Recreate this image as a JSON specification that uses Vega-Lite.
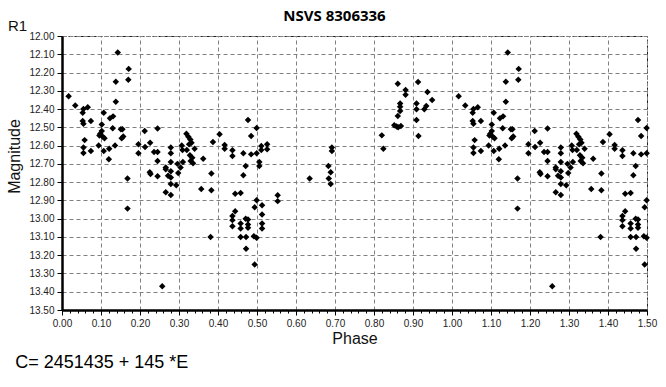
{
  "$schema": "https://vega.github.io/schema/vega-lite/v6.json",
  "width": 585,
  "height": 274,
  "autosize": {"type": "none"},
  "padding": {"left": 62, "top": 36, "right": 19, "bottom": 77},
  "background": "white",
  "config": {
    "view": {"stroke": "#222222", "strokeDash": [4, 2], "strokeWidth": 1},
    "font": "Liberation Sans"
  },
  "title": {
    "text": "NSVS 8306336",
    "font": "Open Sans",
    "fontWeight": "bold",
    "fontSize": 15,
    "color": "#000000",
    "anchor": "middle",
    "dx": -20,
    "offset": -5
  },
  "encoding": {
    "x": {
      "field": "phase",
      "type": "quantitative",
      "title": "Phase",
      "scale": {"domain": [0, 1.5], "nice": false, "zero": false},
      "axis": {
        "values": [0, 0.02, 0.04, 0.06, 0.08, 0.1, 0.12, 0.14, 0.16, 0.18, 0.2, 0.22, 0.24, 0.26, 0.28, 0.3, 0.32, 0.34, 0.36, 0.38, 0.4, 0.42, 0.44, 0.46, 0.48, 0.5, 0.52, 0.54, 0.56, 0.58, 0.6, 0.62, 0.64, 0.66, 0.68, 0.7, 0.72, 0.74, 0.76, 0.78, 0.8, 0.82, 0.84, 0.86, 0.88, 0.9, 0.92, 0.94, 0.96, 0.98, 1, 1.02, 1.04, 1.06, 1.08, 1.1, 1.12, 1.14, 1.16, 1.18, 1.2, 1.22, 1.24, 1.26, 1.28, 1.3, 1.32, 1.34, 1.36, 1.38, 1.4, 1.42, 1.44, 1.46, 1.48, 1.5],
        "labelExpr": "abs(datum.value*10 - round(datum.value*10)) < 0.001 ? format(datum.value, '.2f') : ''",
        "labelFont": "Liberation Sans",
        "labelFontSize": 10,
        "labelColor": "#222222",
        "labelPadding": 3,
        "labelFlush": false,
        "labelOverlap": false,
        "domainColor": "#000000",
        "domainWidth": 2.5,
        "tickColor": "#000000",
        "tickSize": {"condition": {"test": "abs(datum.value*10 - round(datum.value*10)) < 0.001", "value": 5}, "value": 3},
        "grid": true,
        "gridColor": "#808080",
        "gridDash": [4, 3],
        "gridOpacity": {"condition": {"test": "abs(datum.value*10 - round(datum.value*10)) < 0.001", "value": 1}, "value": 0},
        "titleFont": "Liberation Sans",
        "titleFontSize": 16,
        "titleFontWeight": "normal",
        "titleColor": "#111111",
        "titlePadding": 2
      }
    },
    "y": {
      "field": "mag",
      "type": "quantitative",
      "title": "Magnitude",
      "scale": {"domain": [12, 13.5], "nice": false, "zero": false, "reverse": true},
      "axis": {
        "values": [12, 12.1, 12.2, 12.3, 12.4, 12.5, 12.6, 12.7, 12.8, 12.9, 13, 13.1, 13.2, 13.3, 13.4, 13.5],
        "format": ".2f",
        "labelFont": "Liberation Sans",
        "labelFontSize": 10,
        "labelColor": "#222222",
        "labelPadding": 3,
        "labelFlush": false,
        "labelOverlap": false,
        "domainColor": "#000000",
        "domainWidth": 2.5,
        "tickColor": "#000000",
        "tickSize": 5,
        "grid": true,
        "gridColor": "#808080",
        "gridDash": [4, 3],
        "titleFont": "Liberation Sans",
        "titleFontSize": 16,
        "titleFontWeight": "normal",
        "titleColor": "#111111",
        "titlePadding": 6,
        "titleY": 120
      }
    }
  },
  "layer": [
    {
      "data": {
        "values": [
          {"phase": 0.143, "mag": 12.09}, {"phase": 0.171, "mag": 12.18}, {"phase": 0.138, "mag": 12.25}, {"phase": 0.170, "mag": 12.24},
          {"phase": 0.017, "mag": 12.33}, {"phase": 0.138, "mag": 12.36}, {"phase": 0.034, "mag": 12.38}, {"phase": 0.066, "mag": 12.39},
          {"phase": 0.055, "mag": 12.40}, {"phase": 0.053, "mag": 12.42}, {"phase": 0.107, "mag": 12.42}, {"phase": 0.131, "mag": 12.44},
          {"phase": 0.123, "mag": 12.45}, {"phase": 0.053, "mag": 12.465}, {"phase": 0.055, "mag": 12.48}, {"phase": 0.074, "mag": 12.465},
          {"phase": 0.102, "mag": 12.485}, {"phase": 0.130, "mag": 12.505}, {"phase": 0.151, "mag": 12.51}, {"phase": 0.155, "mag": 12.51},
          {"phase": 0.102, "mag": 12.52}, {"phase": 0.098, "mag": 12.535}, {"phase": 0.096, "mag": 12.545}, {"phase": 0.104, "mag": 12.55},
          {"phase": 0.109, "mag": 12.56}, {"phase": 0.153, "mag": 12.56}, {"phase": 0.157, "mag": 12.55}, {"phase": 0.212, "mag": 12.52},
          {"phase": 0.245, "mag": 12.507}, {"phase": 0.058, "mag": 12.57}, {"phase": 0.094, "mag": 12.60}, {"phase": 0.055, "mag": 12.61},
          {"phase": 0.055, "mag": 12.64}, {"phase": 0.074, "mag": 12.63}, {"phase": 0.107, "mag": 12.63}, {"phase": 0.121, "mag": 12.617},
          {"phase": 0.136, "mag": 12.60}, {"phase": 0.120, "mag": 12.675}, {"phase": 0.196, "mag": 12.593}, {"phase": 0.213, "mag": 12.608},
          {"phase": 0.226, "mag": 12.584}, {"phase": 0.196, "mag": 12.642}, {"phase": 0.236, "mag": 12.635}, {"phase": 0.245, "mag": 12.635},
          {"phase": 0.279, "mag": 12.611}, {"phase": 0.279, "mag": 12.642}, {"phase": 0.245, "mag": 12.684}, {"phase": 0.279, "mag": 12.69},
          {"phase": 0.266, "mag": 12.72}, {"phase": 0.296, "mag": 12.70}, {"phase": 0.319, "mag": 12.535}, {"phase": 0.324, "mag": 12.551},
          {"phase": 0.329, "mag": 12.566}, {"phase": 0.332, "mag": 12.584}, {"phase": 0.326, "mag": 12.593}, {"phase": 0.307, "mag": 12.60},
          {"phase": 0.309, "mag": 12.624}, {"phase": 0.320, "mag": 12.624}, {"phase": 0.340, "mag": 12.617}, {"phase": 0.328, "mag": 12.653},
          {"phase": 0.334, "mag": 12.666}, {"phase": 0.330, "mag": 12.684}, {"phase": 0.336, "mag": 12.697}, {"phase": 0.362, "mag": 12.672},
          {"phase": 0.387, "mag": 12.58}, {"phase": 0.225, "mag": 12.746}, {"phase": 0.227, "mag": 12.755}, {"phase": 0.245, "mag": 12.768},
          {"phase": 0.266, "mag": 12.73}, {"phase": 0.279, "mag": 12.74}, {"phase": 0.272, "mag": 12.765}, {"phase": 0.279, "mag": 12.775},
          {"phase": 0.298, "mag": 12.75}, {"phase": 0.304, "mag": 12.72}, {"phase": 0.310, "mag": 12.69}, {"phase": 0.279, "mag": 12.81},
          {"phase": 0.293, "mag": 12.817}, {"phase": 0.266, "mag": 12.855}, {"phase": 0.279, "mag": 12.871}, {"phase": 0.168, "mag": 12.78},
          {"phase": 0.168, "mag": 12.945}, {"phase": 0.383, "mag": 12.753}, {"phase": 0.357, "mag": 12.837}, {"phase": 0.383, "mag": 12.844},
          {"phase": 0.381, "mag": 13.10}, {"phase": 0.257, "mag": 13.37}, {"phase": 0.404, "mag": 12.538}, {"phase": 0.417, "mag": 12.597},
          {"phase": 0.417, "mag": 12.617}, {"phase": 0.437, "mag": 12.626}, {"phase": 0.437, "mag": 12.657}, {"phase": 0.465, "mag": 12.642},
          {"phase": 0.471, "mag": 12.712}, {"phase": 0.477, "mag": 12.46}, {"phase": 0.485, "mag": 12.547}, {"phase": 0.499, "mag": 12.504},
          {"phase": 0.485, "mag": 12.648}, {"phase": 0.499, "mag": 12.642}, {"phase": 0.511, "mag": 12.602}, {"phase": 0.511, "mag": 12.624},
          {"phase": 0.526, "mag": 12.593}, {"phase": 0.526, "mag": 12.62}, {"phase": 0.506, "mag": 12.69}, {"phase": 0.506, "mag": 12.712},
          {"phase": 0.692, "mag": 12.611}, {"phase": 0.692, "mag": 12.63}, {"phase": 0.683, "mag": 12.712}, {"phase": 0.465, "mag": 12.762},
          {"phase": 0.458, "mag": 12.859}, {"phase": 0.444, "mag": 12.864}, {"phase": 0.499, "mag": 12.899}, {"phase": 0.494, "mag": 12.937},
          {"phase": 0.513, "mag": 12.926}, {"phase": 0.513, "mag": 12.977}, {"phase": 0.513, "mag": 13.027}, {"phase": 0.513, "mag": 13.054},
          {"phase": 0.553, "mag": 12.872}, {"phase": 0.553, "mag": 12.904}, {"phase": 0.444, "mag": 12.959}, {"phase": 0.437, "mag": 12.986},
          {"phase": 0.437, "mag": 13.008}, {"phase": 0.437, "mag": 13.041}, {"phase": 0.458, "mag": 13.027}, {"phase": 0.458, "mag": 13.054},
          {"phase": 0.471, "mag": 13.001}, {"phase": 0.477, "mag": 13.005}, {"phase": 0.477, "mag": 13.032}, {"phase": 0.477, "mag": 13.05},
          {"phase": 0.458, "mag": 13.10}, {"phase": 0.472, "mag": 13.10}, {"phase": 0.492, "mag": 13.096}, {"phase": 0.499, "mag": 13.105},
          {"phase": 0.472, "mag": 13.165}, {"phase": 0.494, "mag": 13.251}, {"phase": 0.635, "mag": 12.78}, {"phase": 0.689, "mag": 12.746},
          {"phase": 0.684, "mag": 12.78}, {"phase": 0.689, "mag": 12.81}, {"phase": 0.820, "mag": 12.544}, {"phase": 0.824, "mag": 12.617},
          {"phase": 0.861, "mag": 12.261}, {"phase": 0.881, "mag": 12.296}, {"phase": 0.881, "mag": 12.321}, {"phase": 0.867, "mag": 12.369},
          {"phase": 0.867, "mag": 12.387}, {"phase": 0.867, "mag": 12.41}, {"phase": 0.861, "mag": 12.438}, {"phase": 0.852, "mag": 12.489},
          {"phase": 0.858, "mag": 12.496}, {"phase": 0.862, "mag": 12.50}, {"phase": 0.869, "mag": 12.493}, {"phase": 0.913, "mag": 12.252},
          {"phase": 0.937, "mag": 12.307}, {"phase": 0.949, "mag": 12.35}, {"phase": 0.909, "mag": 12.369}, {"phase": 0.909, "mag": 12.401},
          {"phase": 0.909, "mag": 12.46}, {"phase": 0.914, "mag": 12.547}, {"phase": 0.929, "mag": 12.401}, {"phase": 0.934, "mag": 12.383},
          {"phase": 1.143, "mag": 12.09}, {"phase": 1.171, "mag": 12.18}, {"phase": 1.138, "mag": 12.25}, {"phase": 1.170, "mag": 12.24},
          {"phase": 1.017, "mag": 12.33}, {"phase": 1.138, "mag": 12.36}, {"phase": 1.034, "mag": 12.38}, {"phase": 1.066, "mag": 12.39},
          {"phase": 1.055, "mag": 12.40}, {"phase": 1.053, "mag": 12.42}, {"phase": 1.107, "mag": 12.42}, {"phase": 1.131, "mag": 12.44},
          {"phase": 1.123, "mag": 12.45}, {"phase": 1.053, "mag": 12.465}, {"phase": 1.055, "mag": 12.48}, {"phase": 1.074, "mag": 12.465},
          {"phase": 1.102, "mag": 12.485}, {"phase": 1.130, "mag": 12.505}, {"phase": 1.151, "mag": 12.51}, {"phase": 1.155, "mag": 12.51},
          {"phase": 1.102, "mag": 12.52}, {"phase": 1.098, "mag": 12.535}, {"phase": 1.096, "mag": 12.545}, {"phase": 1.104, "mag": 12.55},
          {"phase": 1.109, "mag": 12.56}, {"phase": 1.153, "mag": 12.56}, {"phase": 1.157, "mag": 12.55}, {"phase": 1.212, "mag": 12.52},
          {"phase": 1.245, "mag": 12.507}, {"phase": 1.058, "mag": 12.57}, {"phase": 1.094, "mag": 12.60}, {"phase": 1.055, "mag": 12.61},
          {"phase": 1.055, "mag": 12.64}, {"phase": 1.074, "mag": 12.63}, {"phase": 1.107, "mag": 12.63}, {"phase": 1.121, "mag": 12.617},
          {"phase": 1.136, "mag": 12.60}, {"phase": 1.120, "mag": 12.675}, {"phase": 1.196, "mag": 12.593}, {"phase": 1.213, "mag": 12.608},
          {"phase": 1.226, "mag": 12.584}, {"phase": 1.196, "mag": 12.642}, {"phase": 1.236, "mag": 12.635}, {"phase": 1.245, "mag": 12.635},
          {"phase": 1.279, "mag": 12.611}, {"phase": 1.279, "mag": 12.642}, {"phase": 1.245, "mag": 12.684}, {"phase": 1.279, "mag": 12.69},
          {"phase": 1.266, "mag": 12.72}, {"phase": 1.296, "mag": 12.70}, {"phase": 1.319, "mag": 12.535}, {"phase": 1.324, "mag": 12.551},
          {"phase": 1.329, "mag": 12.566}, {"phase": 1.332, "mag": 12.584}, {"phase": 1.326, "mag": 12.593}, {"phase": 1.307, "mag": 12.60},
          {"phase": 1.309, "mag": 12.624}, {"phase": 1.320, "mag": 12.624}, {"phase": 1.340, "mag": 12.617}, {"phase": 1.328, "mag": 12.653},
          {"phase": 1.334, "mag": 12.666}, {"phase": 1.330, "mag": 12.684}, {"phase": 1.336, "mag": 12.697}, {"phase": 1.362, "mag": 12.672},
          {"phase": 1.387, "mag": 12.58}, {"phase": 1.225, "mag": 12.746}, {"phase": 1.227, "mag": 12.755}, {"phase": 1.245, "mag": 12.768},
          {"phase": 1.266, "mag": 12.73}, {"phase": 1.279, "mag": 12.74}, {"phase": 1.272, "mag": 12.765}, {"phase": 1.279, "mag": 12.775},
          {"phase": 1.298, "mag": 12.75}, {"phase": 1.304, "mag": 12.72}, {"phase": 1.310, "mag": 12.69}, {"phase": 1.279, "mag": 12.81},
          {"phase": 1.293, "mag": 12.817}, {"phase": 1.266, "mag": 12.855}, {"phase": 1.279, "mag": 12.871}, {"phase": 1.168, "mag": 12.78},
          {"phase": 1.168, "mag": 12.945}, {"phase": 1.383, "mag": 12.753}, {"phase": 1.357, "mag": 12.837}, {"phase": 1.383, "mag": 12.844},
          {"phase": 1.381, "mag": 13.10}, {"phase": 1.257, "mag": 13.37}, {"phase": 1.404, "mag": 12.538}, {"phase": 1.417, "mag": 12.597},
          {"phase": 1.417, "mag": 12.617}, {"phase": 1.437, "mag": 12.626}, {"phase": 1.437, "mag": 12.657}, {"phase": 1.465, "mag": 12.642},
          {"phase": 1.471, "mag": 12.712}, {"phase": 1.477, "mag": 12.46}, {"phase": 1.485, "mag": 12.547}, {"phase": 1.499, "mag": 12.504},
          {"phase": 1.485, "mag": 12.648}, {"phase": 1.499, "mag": 12.642}, {"phase": 1.465, "mag": 12.762}, {"phase": 1.458, "mag": 12.859},
          {"phase": 1.444, "mag": 12.864}, {"phase": 1.499, "mag": 12.899}, {"phase": 1.494, "mag": 12.937}, {"phase": 1.444, "mag": 12.959},
          {"phase": 1.437, "mag": 12.986}, {"phase": 1.437, "mag": 13.008}, {"phase": 1.437, "mag": 13.041}, {"phase": 1.458, "mag": 13.027},
          {"phase": 1.458, "mag": 13.054}, {"phase": 1.471, "mag": 13.001}, {"phase": 1.477, "mag": 13.005}, {"phase": 1.477, "mag": 13.032},
          {"phase": 1.477, "mag": 13.05}, {"phase": 1.458, "mag": 13.10}, {"phase": 1.472, "mag": 13.10}, {"phase": 1.492, "mag": 13.096},
          {"phase": 1.499, "mag": 13.105}, {"phase": 1.472, "mag": 13.165}, {"phase": 1.494, "mag": 13.251}
        ]
      },
      "mark": {"type": "point", "shape": "diamond", "filled": true, "color": "#000000", "opacity": 1, "size": 42}
    },
    {
      "data": {"values": [{"label": "R1", "phase": -0.1385, "mag": 11.945}]},
      "mark": {"type": "text", "align": "left", "baseline": "middle", "font": "Liberation Sans", "fontSize": 15, "color": "#111111"},
      "encoding": {"text": {"field": "label", "type": "nominal"}}
    },
    {
      "data": {"values": [{"label": "C= 2451435 + 145 *E", "phase": -0.12, "mag": 13.79}]},
      "mark": {"type": "text", "align": "left", "baseline": "middle", "font": "Liberation Sans", "fontSize": 18, "color": "#000000"},
      "encoding": {"text": {"field": "label", "type": "nominal"}}
    }
  ]
}
